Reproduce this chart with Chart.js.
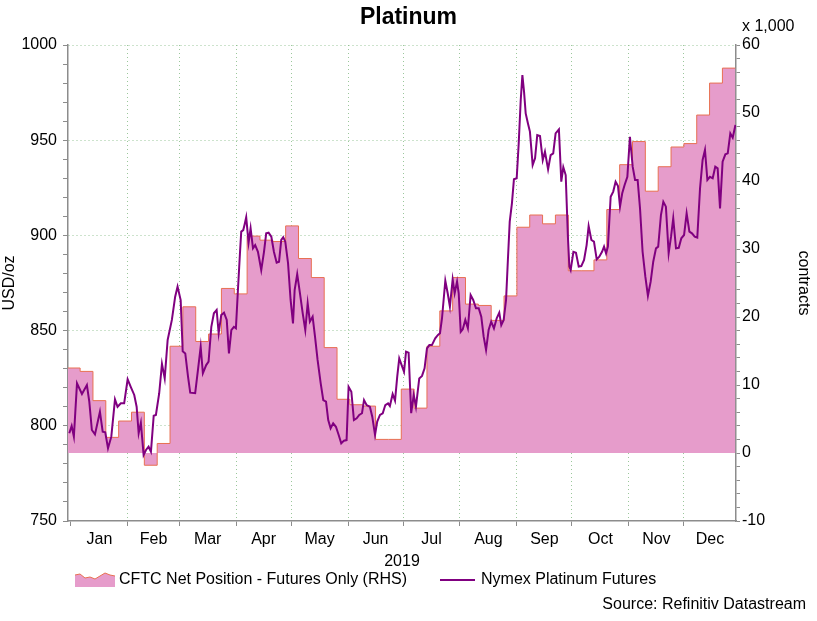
<!DOCTYPE html>
<html>
<head>
<meta charset="utf-8">
<script src="https://cdn.jsdelivr.net/npm/chart.js@4.4.1/dist/chart.umd.min.js"></script>
<style>
html,body{margin:0;padding:0;background:#fff;}
#wrap{width:817px;height:621px;}
</style>
</head>
<body>
<div id="wrap"><canvas id="c" width="817" height="621" style="width:817px;height:621px"></canvas></div>
<script>
// ---------- data ----------
const monthNames = ['Jan','Feb','Mar','Apr','May','Jun','Jul','Aug','Sep','Oct','Nov','Dec'];
// day offsets from 2019-01-01 at which each month starts (last = 2020-01-01)
const monthStartDays = [0,31,59,90,120,151,181,212,243,273,304,334,365];
const xMinDay = -1.6;
const xMaxDay = 362.4;

const priceTicksMajor = [750,800,850,900,950,1000];
const priceMinorStep = 10;
const contractTicksMajor = [-10,0,10,20,30,40,50,60];
const contractMinorStep = 2;

// CFTC net position (thousand contracts), weekly, first week starting at day -2
const cftcFirstDay = -2;
const cftcNet = [12.5,12.0,7.7,2.3,4.7,6.0,-1.8,1.4,15.7,21.5,16.4,17.5,24.2,23.4,31.9,31.3,31.1,33.4,28.6,25.8,
  15.5,7.9,7.1,6.9,2.0,2.0,9.4,6.6,15.7,20.9,25.8,21.9,21.7,19.5,23.1,33.2,35.0,33.7,35.0,26.8,
  26.8,28.4,35.8,42.4,45.8,38.5,42.1,45.0,45.5,49.7,54.4,56.6];

// Nymex platinum futures (USD/oz), day offsets from 2019-01-01
const priceDay = [-0.9,0.4,1.6,3.3,6.0,8.7,10.0,11.4,13.1,15.8,
  17.3,18.7,20.2,22.0,24.0,25.4,27.2,29.0,30.9,32.7,
  34.5,35.8,36.9,38.1,39.6,40.9,42.3,43.6,45.1,46.3,
  48.1,49.6,51.1,52.7,55.0,56.8,58.1,59.8,60.9,62.3,
  63.8,65.0,67.7,69.2,70.7,71.9,73.7,75.0,76.5,77.9,
  79.4,80.5,81.9,83.4,84.9,86.1,87.4,88.8,89.9,91.0,
  92.1,92.8,93.9,94.7,95.5,96.8,97.9,99.2,100.4,101.9,
  103.7,105.2,106.4,107.7,109.2,110.6,112.1,113.4,114.6,115.7,
  116.8,118.3,119.7,121.0,121.9,123.3,124.8,126.3,127.7,129.0,
  130.2,131.7,133.0,134.4,136.1,137.5,139.0,140.2,141.5,142.9,
  144.4,145.9,147.3,148.8,150.2,151.3,152.8,154.2,155.7,157.1,
  158.6,159.7,161.1,162.9,164.2,165.7,166.9,168.4,169.9,171.3,
  172.8,173.8,175.3,176.6,177.8,178.9,180.2,181.5,182.6,184.0,
  185.4,186.8,188.0,189.8,191.3,192.7,194.0,195.3,196.7,198.5,
  200.0,201.1,202.2,204.0,205.3,206.5,208.0,209.1,210.4,211.3,
  212.4,213.5,214.9,216.3,217.8,219.2,220.7,222.2,223.6,224.9,
  226.2,227.6,229.0,230.5,232.0,233.4,234.5,235.8,237.1,238.1,
  239.1,240.3,241.4,242.9,244.0,245.1,246.0,246.9,247.8,249.0,
  250.1,251.6,252.9,254.1,255.6,257.1,258.3,260.0,261.4,262.8,
  264.1,265.9,267.2,268.3,269.6,270.8,271.6,272.3,273.8,275.2,
  276.7,278.1,279.6,281.0,282.1,283.6,285.0,286.5,287.9,289.4,
  290.5,291.6,292.6,294.1,295.5,296.8,298.1,299.2,300.4,301.7,
  303.2,304.6,306.1,307.4,308.8,310.1,311.5,313.0,314.4,315.9,
  317.3,318.8,320.0,321.5,322.8,324.2,325.7,327.0,328.2,329.7,
  331.2,332.6,334.1,335.5,337.0,338.4,339.9,341.3,342.8,344.2,
  345.5,346.8,348.2,349.7,351.1,352.4,353.7,355.1,356.6,357.9,
  359.3,360.6,362.1];
const priceUsd = [796.1,799.9,794.3,822.3,816.7,821.4,812.7,797.8,795.5,807.4,
  796.9,796.6,788.2,794.3,813.9,810.0,811.8,811.8,824.4,820.2,
  816.2,810.0,796.1,801.6,784.7,787.3,789.0,786.4,805.3,805.7,
  817.1,832.5,824.9,845.1,855.6,867.8,873.1,866.0,839.1,838.0,
  825.8,817.4,817.1,829.3,841.5,827.6,831.9,833.7,852.0,859.1,
  860.8,848.6,858.2,859.4,855.6,838.0,850.3,852.0,851.2,871.3,
  890.6,902.0,902.8,906.0,909.5,896.2,903.7,893.2,894.9,891.4,
  881.8,891.4,901.1,901.4,899.3,891.4,885.7,886.2,897.6,899.0,
  896.7,885.4,866.1,853.8,871.3,879.7,869.6,859.1,850.3,864.3,
  854.7,857.3,846.8,834.6,822.3,813.5,812.7,803.0,798.7,801.3,
  799.5,795.2,790.8,792.2,792.5,820.5,817.9,803.0,803.9,805.7,
  806.6,813.5,810.9,810.0,804.8,795.2,802.2,805.7,806.6,810.9,
  811.8,810.4,816.7,813.2,825.8,835.4,831.9,828.4,838.9,838.4,
  806.6,816.2,810.0,824.9,826.2,830.2,840.7,842.4,842.4,845.9,
  847.7,848.6,856.5,876.2,869.6,862.6,876.9,869.6,875.7,869.6,
  849.4,850.7,855.6,851.2,868.7,866.1,861.7,861.7,857.3,846.8,
  839.8,850.3,854.7,851.2,856.5,859.4,852.9,855.6,866.1,887.1,
  907.2,916.8,929.5,930.0,948.4,971.1,984.2,975.5,964.1,958.9,
  954.5,937.0,940.5,952.7,952.2,939.6,944.0,934.7,942.2,943.1,
  953.6,955.7,928.2,935.8,931.7,899.3,883.6,881.8,891.4,890.9,
  883.6,883.9,887.1,894.9,904.9,897.6,896.7,887.4,888.8,891.4,
  894.1,890.6,894.1,920.3,923.0,928.2,925.9,915.1,922.1,926.5,
  930.8,951.8,936.1,929.1,929.1,914.2,891.4,878.3,868.3,875.7,
  886.2,893.2,894.1,910.7,917.7,915.1,890.6,899.3,909.0,893.2,
  893.5,898.5,900.2,911.6,902.0,901.1,899.3,898.8,924.7,939.6,
  944.9,929.1,930.8,930.0,936.1,935.2,914.2,938.7,942.6,943.1,
  953.6,951.3,958.0];

// ---------- styles ----------
const FONT = "'Liberation Sans', Arial, Helvetica, sans-serif";
Chart.defaults.font.family = FONT;
Chart.defaults.font.size = 16;
Chart.defaults.color = '#000';

const gridColor = 'rgba(130,185,130,0.8)';
const axisColor = '#8c8c8c';
const areaFill = 'rgb(230,156,203)';
const areaEdge = 'rgb(232,112,82)';
const lineColor = '#800080';
const clear = 'rgba(0,0,0,0)';

// ---------- derived structures ----------
const pricePoints = priceDay.map((d, i) => ({x: d, y: priceUsd[i]}));
// each weekly value holds from its week start until the next week start
const cftcPoints = cftcNet.map((v, i) => ({x: cftcFirstDay + 7 * i, y: v}));
cftcPoints.push({x: cftcFirstDay + 7 * cftcNet.length, y: cftcNet[cftcNet.length - 1]});

const monthMid = monthNames.map((m, i) =>
  (Math.max(monthStartDays[i], xMinDay) + Math.min(monthStartDays[i + 1], xMaxDay)) / 2);

function stepTicks(major, step) {
  const out = [];
  const lo = major[0], hi = major[major.length - 1];
  for (let v = lo; v <= hi + 1e-9; v += step) out.push({value: Math.round(v * 1000) / 1000});
  return out;
}

const extras = {
  id: 'extras',
  afterDraw(chart) {
    const ctx = chart.ctx;
    ctx.save();
    ctx.font = '16px ' + FONT;
    ctx.fillStyle = '#000';
    ctx.textBaseline = 'middle';
    ctx.textAlign = 'left';
    ctx.fillText('x 1,000', chart.scales.y2.left + 6, 27);

    // legend
    const ly = 580;
    ctx.beginPath();
    ctx.moveTo(75, 587);
    const sw = [[75,575],[80,574],[85,578],[90,577],[95,579],[100,576],[105,573],[110,575],[115,576]];
    sw.forEach(p => ctx.lineTo(p[0], p[1]));
    ctx.lineTo(115, 587);
    ctx.closePath();
    ctx.fillStyle = areaFill;
    ctx.fill();
    ctx.beginPath();
    ctx.moveTo(sw[0][0], sw[0][1]);
    sw.forEach(p => ctx.lineTo(p[0], p[1]));
    ctx.strokeStyle = areaEdge; ctx.lineWidth = 1; ctx.stroke();

    const t1 = chart.data.datasets[1].label;
    const t2 = chart.data.datasets[0].label;
    ctx.fillStyle = '#000';
    ctx.fillText(t1, 119, ly);
    const lx = 440;
    ctx.beginPath();
    ctx.moveTo(lx, ly); ctx.lineTo(lx + 35, ly);
    ctx.strokeStyle = lineColor; ctx.lineWidth = 2; ctx.stroke();
    ctx.fillText(t2, lx + 41, ly);

    ctx.textAlign = 'right';
    ctx.fillText('Source: Refinitiv Datastream', 806, 605);
    ctx.restore();
  }
};

new Chart(document.getElementById('c'), {
  type: 'line',
  data: {
    datasets: [
      {
        label: 'Nymex Platinum Futures',
        data: pricePoints,
        xAxisID: 'x', yAxisID: 'y',
        borderColor: lineColor, borderWidth: 2,
        pointRadius: 0, tension: 0, fill: false, order: 1
      },
      {
        label: 'CFTC Net Position - Futures Only (RHS)',
        data: cftcPoints,
        xAxisID: 'x', yAxisID: 'y2',
        stepped: 'before',
        borderColor: areaEdge, borderWidth: 1,
        backgroundColor: areaFill,
        fill: 'origin', pointRadius: 0, order: 2
      }
    ]
  },
  options: {
    responsive: false,
    animation: false,
    events: [],
    layout: {padding: {left: 0, right: 0, top: 0, bottom: 50}},
    plugins: {
      legend: {display: false},
      tooltip: {enabled: false},
      title: {
        display: true, text: 'Platinum',
        font: {size: 23, weight: 'bold'},
        padding: {top: 4, bottom: 13.4}
      }
    },
    scales: {
      x: {
        type: 'linear', position: 'bottom', min: xMinDay, max: xMaxDay, bounds: 'data',
        afterBuildTicks: s => {
          const t = monthStartDays.filter(d => d >= xMinDay && d <= xMaxDay).concat(monthMid);
          s.ticks = t.sort((a, b) => a - b).map(v => ({value: v}));
        },
        afterFit: s => { s.height = 50; },
        ticks: {
          autoSkip: false, maxRotation: 0, minRotation: 0, padding: 4,
          callback: v => { const i = monthMid.indexOf(v); return i >= 0 ? monthNames[i] : ''; }
        },
        grid: {
          color: c => (c.tick && c.tick.value > 0 && monthStartDays.includes(c.tick.value)) ? gridColor : clear,
          tickColor: c => (c.tick && monthStartDays.includes(c.tick.value)) ? axisColor : clear,
          tickLength: 5, lineWidth: 1
        },
        border: {color: axisColor, width: 1.5, dash: [1, 3]},
        title: {display: true, text: '2019', padding: {top: 0, bottom: 0}}
      },
      y: {
        type: 'linear', position: 'left', min: 750, max: 1000, bounds: 'data',
        afterBuildTicks: s => { s.ticks = stepTicks(priceTicksMajor, priceMinorStep); },
        afterFit: s => { s.width = 68; },
        ticks: {autoSkip: false, padding: 6, callback: v => priceTicksMajor.includes(v) ? String(v) : ''},
        grid: {
          color: c => (c.tick && c.tick.value !== 750 && priceTicksMajor.includes(c.tick.value)) ? gridColor : clear,
          tickColor: axisColor, tickLength: 5, lineWidth: 1
        },
        border: {color: axisColor, width: 1.5, dash: [1, 3]},
        title: {display: true, text: 'USD/oz', padding: {top: 0, bottom: 0}}
      },
      y2: {
        type: 'linear', position: 'right', min: -10, max: 60, bounds: 'data',
        afterBuildTicks: s => { s.ticks = stepTicks(contractTicksMajor, contractMinorStep); },
        afterFit: s => { s.width = 81; },
        ticks: {autoSkip: false, padding: 2, callback: v => contractTicksMajor.includes(v) ? String(v) : ''},
        grid: {drawOnChartArea: false, tickColor: axisColor, tickLength: 4},
        border: {color: axisColor, width: 1.5},
        title: {display: true, text: 'contracts', padding: {top: 4.4, bottom: 0}}
      }
    }
  },
  plugins: [extras]
});
</script>
</body>
</html>
